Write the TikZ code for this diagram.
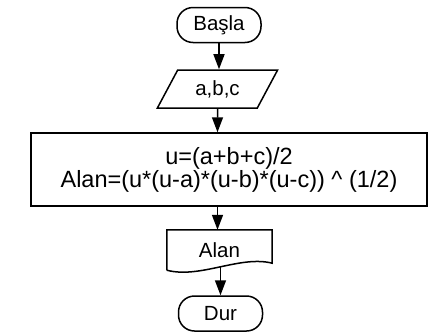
\documentclass[tikz,border=0pt]{standalone}
\usepackage{fontspec}
\setmainfont{Liberation Sans}
\usetikzlibrary{shapes.geometric,arrows.meta,calc}

\tikzset{
	cizgi/.style={line width=1.5pt},
	ok/.style={cizgi, -{Triangle[length=15pt,width=11pt]}},
	terminal/.style={cizgi, draw, rectangle, rounded corners=16pt, minimum width=84pt, minimum height=35pt, font=\fontsize{20.5}{22}\selectfont},
	girdibox/.style={cizgi, draw, trapezium, trapezium left angle=57, trapezium right angle=123, trapezium stretches=true, minimum width=121pt, minimum height=38pt, inner sep=0pt, font=\fontsize{20.5}{22}\selectfont},
	islembox/.style={cizgi, draw, rectangle, minimum width=396pt, minimum height=73pt, align=center, font=\fontsize{23.5}{23}\selectfont},
	ciktibox/.style={rectangle, minimum width=105pt, minimum height=40pt, font=\fontsize{20.5}{22}\selectfont}
}

\begin{document}
\begin{tikzpicture}[x=1pt,y=-1pt]
	\useasboundingbox (0,0) rectangle (447,335);
	\node[terminal] (basla) at (219,25) {Başla};
	\node[girdibox] (girdi) at (217.5,89) {a,b,c};
	\node[islembox] (islem) at (229,169.5) {u=(a+b+c)/2\\Alan=(u*(u-a)*(u-b)*(u-c)) \^{} (1/2)};
	\node[ciktibox] (alan) at (219.5,250) {Alan};
	\node[terminal] (dur) at (220.5,313.5) {Dur};
	% belge sekli
	\draw[cizgi] (alan.south west) -- (alan.north west) -- (alan.north east)
		-- ($(alan.south east)+(0,-7)$) .. controls (240,255) and (200,279) .. (alan.south west);
	\draw[ok] (basla) -- (basla |- girdi.north);
	\draw[ok] (girdi) -- (girdi |- islem.north);
	\draw[ok] (islem.south -| girdi) -- (alan.north -| girdi);
	\draw[ok] (alan.south -| dur) ++(0,-3) -- (dur.north);
\end{tikzpicture}
\end{document}
